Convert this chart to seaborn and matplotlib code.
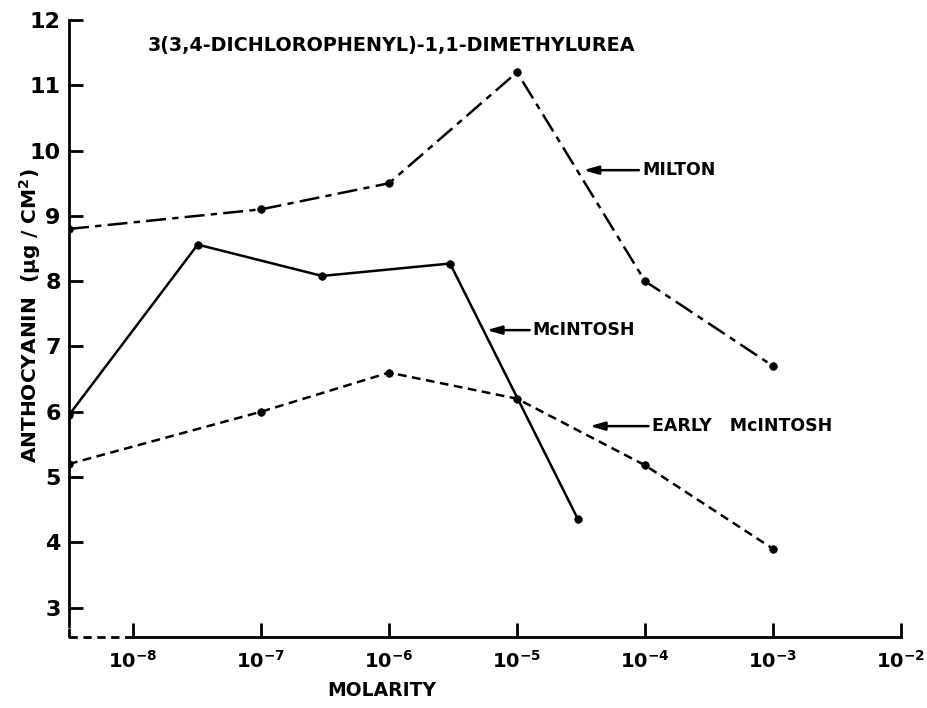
import numpy as np
import pandas as pd
import matplotlib
matplotlib.use("Agg")
import matplotlib.pyplot as plt
import matplotlib.transforms as mtransforms
import seaborn as sns

# ---- data ----
milton_x = [3.16e-9, 1e-7, 1e-6, 1e-5, 1e-4, 1e-3]
milton_y = [8.8, 9.1, 9.5, 11.2, 8.0, 6.7]

mcintosh_x = [3.16e-9, 3.2e-8, 3e-7, 3e-6, 3e-5]
mcintosh_y = [5.95, 8.56, 8.08, 8.27, 4.35]

early_x = [3.16e-9, 1e-7, 1e-6, 1e-5, 1e-4, 1e-3]
early_y = [5.2, 6.0, 6.6, 6.2, 5.18, 3.9]

x_ticks = [1e-8, 1e-7, 1e-6, 1e-5, 1e-4, 1e-3, 1e-2]
x_tick_labels = [r"$\mathbf{10^{-8}}$", r"$\mathbf{10^{-7}}$", r"$\mathbf{10^{-6}}$",
                 r"$\mathbf{10^{-5}}$", r"$\mathbf{10^{-4}}$", r"$\mathbf{10^{-3}}$",
                 r"$\mathbf{10^{-2}}$"]
y_ticks = [3, 4, 5, 6, 7, 8, 9, 10, 11, 12]

title = "3(3,4-DICHLOROPHENYL)-1,1-DIMETHYLUREA"
labels = ["MILTON", "McINTOSH", "EARLY   McINTOSH"]

sns.set_theme(style="white")
plt.rcParams["font.family"] = ["DejaVu Sans"]
plt.rcParams["font.weight"] = "bold"
plt.rcParams["text.color"] = "black"
plt.rcParams["xtick.color"] = "black"
plt.rcParams["ytick.color"] = "black"
plt.rcParams["axes.labelcolor"] = "black"

fig = plt.figure(figsize=(9.27, 7.08), dpi=100)
ax = fig.add_axes([69/927, 1-637/708, (901-69)/927, (637-20)/708])
ax.set_xscale("log")

lw = 1.8
common = dict(color="black", marker="o", markersize=5.5, markeredgecolor="black",
              markeredgewidth=0.5, linewidth=lw, ax=ax, sort=False)
sns.lineplot(x=milton_x, y=milton_y, linestyle=(0, (8, 2.5, 2.5, 2.5)), **common)
sns.lineplot(x=mcintosh_x, y=mcintosh_y, linestyle="-", **common)
sns.lineplot(x=early_x, y=early_y, linestyle=(0, (3.5, 2.2)), **common)

ax.set_xlim(3.16e-9, 1.0e-2)
ax.set_ylim(2.55, 12)
ax.minorticks_off()
ax.set_xticks(x_ticks)
ax.set_xticklabels(x_tick_labels, fontsize=14)
ax.set_yticks(y_ticks)
ax.set_yticklabels([str(v) for v in y_ticks], fontsize=16, fontweight="bold")
ax.tick_params(axis="both", direction="in", length=10, width=2, color="black",
               left=True, bottom=True, labelcolor="black")
ax.tick_params(axis="x", pad=9)
ax.tick_params(axis="y", pad=6)

for s in ["top", "right"]:
    ax.spines[s].set_visible(False)
ax.spines["left"].set_color("black")
ax.spines["left"].set_linewidth(2)
ax.spines["bottom"].set_color("black")
ax.spines["bottom"].set_linewidth(2)
ax.spines["bottom"].set_bounds(1e-8, 1e-2)
ax.spines["left"].set_bounds(2.72, 12)

# broken-axis dashes
trans_x = mtransforms.blended_transform_factory(ax.transData, ax.transAxes)
ax.plot([3.16e-9, 1e-8], [0, 0], transform=trans_x, color="black", lw=2,
        linestyle=(0, (3, 2)), clip_on=False)
trans_y = mtransforms.blended_transform_factory(ax.transAxes, ax.transData)
ax.plot([0, 0], [2.55, 2.68], transform=trans_y, color="black", lw=2, clip_on=False)

ax.set_xlabel("")
ax.set_ylabel("")

ax.text(0.095, 0.958, title, transform=ax.transAxes, fontsize=13.8,
        fontweight="bold", va="center", ha="left", color="black")

arrow = dict(arrowstyle="-|>,head_length=0.7,head_width=0.2", color="black", lw=1.8,
             shrinkA=0, shrinkB=0)
ax.annotate(labels[0], xy=(3.3e-5, 9.70), xytext=(9.5e-5, 9.70), fontsize=12.5,
            fontweight="bold", va="center", ha="left", arrowprops=arrow, color="black")
ax.annotate(labels[1], xy=(5.8e-6, 7.25), xytext=(1.33e-5, 7.25), fontsize=12.5,
            fontweight="bold", va="center", ha="left", arrowprops=arrow, color="black")
ax.annotate(labels[2], xy=(3.7e-5, 5.78), xytext=(1.13e-4, 5.78), fontsize=12.5,
            fontweight="bold", va="center", ha="left", arrowprops=arrow, color="black")

fig.text(30/927, 1-316/708, "ANTHOCYANIN  (\u00b5g / CM$^\\mathbf{2}$)", rotation=90,
         fontsize=14.5, fontweight="bold", ha="center", va="center", color="black")
fig.text(382/927, 1-690/708, "MOLARITY", fontsize=13.5, fontweight="bold",
         ha="center", va="center", color="black")

fig.savefig("out.png", dpi=100, facecolor="white")
